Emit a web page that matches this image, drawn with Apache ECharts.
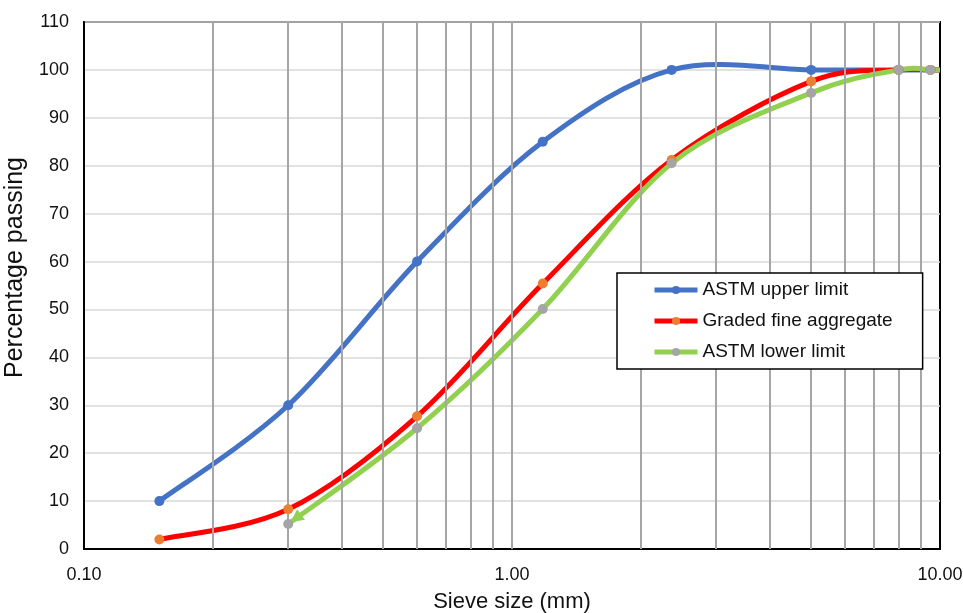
<!DOCTYPE html>
<html>
<head>
<meta charset="utf-8">
<script src="https://cdn.jsdelivr.net/npm/echarts@6/dist/echarts.min.js"></script>
<style>
html,body{margin:0;padding:0;background:#fff;}
#chart{width:963px;height:613px;}
</style>
</head>
<body>
<div id="chart"></div>
<script>
// Sieve sizes (mm) and percentage passing
const sieveUpper = [0.15, 0.3, 0.6, 1.18, 2.36, 5, 8, 9.5, 10];
const upperLimit = [10, 30, 60, 85, 100, 100, 100, 100, 100];

const sieveGraded = [0.15, 0.3, 0.6, 1.18, 2.36, 5, 8, 9.5, 10];
const gradedFine = [2, 8.3, 27.7, 55.4, 81.2, 97.6, 100, 100, 100];

const sieveLower = [0.3, 0.6, 1.18, 2.36, 5, 8, 9.5, 10];
const lowerLimit = [5.2, 25.2, 50.1, 80.5, 95.2, 100, 100, 100];

const minorGrid = [0.2, 0.3, 0.4, 0.5, 0.6, 0.7, 0.8, 0.9, 1, 2, 3, 4, 5, 6, 7, 8, 9];
const yTicks = [0, 10, 20, 30, 40, 50, 60, 70, 80, 90, 100, 110];

const seriesNames = ['ASTM upper limit', 'Graded fine aggregate', 'ASTM lower limit'];
const lineColors = ['#4472C4', '#FF0000', '#92D050'];
const markerColors = ['#4472C4', '#ED7D31', '#A5A5A5'];

function pairs(xs, ys) {
  return xs.map((x, i) => {
    const d = { value: [x, ys[i]] };
    if (x >= 10) d.symbol = 'none';
    return d;
  });
}

// Excel-like smoothed curve (Catmull-Rom style, tangent /6) in pixel space
function curvePts(api, xs, ys) {
  return xs.map((x, i) => api.coord([x, ys[i]]));
}
function curvePath(p) {
  const n = p.length;
  let d = 'M' + p[0][0] + ' ' + p[0][1];
  for (let i = 0; i < n - 1; i++) {
    const p0 = p[Math.max(i - 1, 0)], p1 = p[i], p2 = p[i + 1], p3 = p[Math.min(i + 2, n - 1)];
    const c1 = [p1[0] + (p2[0] - p0[0]) / 6, p1[1] + (p2[1] - p0[1]) / 6];
    const c2 = [p2[0] - (p3[0] - p1[0]) / 6, p2[1] - (p3[1] - p1[1]) / 6];
    d += ' C' + c1[0] + ' ' + c1[1] + ' ' + c2[0] + ' ' + c2[1] + ' ' + p2[0] + ' ' + p2[1];
  }
  return d;
}

function curveSeries(idx, xs, ys, withArrow) {
  return {
    type: 'custom',
    name: '_curve' + idx,
    coordinateSystem: 'cartesian2d',
    clip: true,
    silent: true,
    z: 2 + idx * 0.1,
    data: [[xs[0], ys[0]]],
    encode: { x: 0, y: 1 },
    renderItem: function (params, api) {
      const p = curvePts(api, xs, ys);
      const children = [{
        type: 'path',
        shape: { pathData: curvePath(p) },
        style: { stroke: lineColors[idx], lineWidth: 5, fill: 'none', lineCap: 'round', lineJoin: 'round' }
      }];
      if (withArrow) {
        const a = p[0], b = p[1];
        const dx = b[0] - a[0], dy = b[1] - a[1];
        const L = Math.sqrt(dx * dx + dy * dy);
        const ux = dx / L, uy = dy / L, nx = -uy, ny = ux;
        const tip = [a[0] + ux * 3, a[1] + uy * 3];
        const base = [tip[0] + ux * 13, tip[1] + uy * 13];
        children.push({
          type: 'polygon',
          shape: { points: [tip, [base[0] + nx * 6.5, base[1] + ny * 6.5], [base[0] - nx * 6.5, base[1] - ny * 6.5]] },
          style: { fill: lineColors[idx] }
        });
      }
      return { type: 'group', children: children };
    }
  };
}

function markerSeries(idx, xs, ys) {
  return {
    name: seriesNames[idx], type: 'line',
    data: pairs(xs, ys),
    symbol: 'circle', symbolSize: 10, showSymbol: true,
    lineStyle: { color: lineColors[idx], width: 5, opacity: 0 },
    itemStyle: { color: markerColors[idx] },
    z: 5 + idx
  };
}

const FONT = 'Liberation Sans, Arial, sans-serif';
const chart = echarts.init(document.getElementById('chart'), null, { renderer: 'canvas' });

chart.setOption({
  animation: false,
  backgroundColor: '#fff',
  textStyle: { fontFamily: FONT },
  grid: {
    left: 84, right: 23, top: 22, bottom: 64,
    containLabel: false, outerBoundsMode: 'none',
    show: true, borderColor: '#000', borderWidth: 2, backgroundColor: 'transparent'
  },
  legend: {
    z: 20,
    data: seriesNames.map((n, i) => ({
      name: n,
      lineStyle: { color: lineColors[i], width: 5, opacity: 1 },
      itemStyle: { color: markerColors[i] }
    })),
    orient: 'vertical',
    left: 617, top: 273,
    backgroundColor: '#fff',
    borderColor: '#000', borderWidth: 1.5,
    padding: [7, 30, 7, 35],
    itemWidth: 43, itemHeight: 10, itemGap: 11,
    textStyle: { fontFamily: FONT, fontSize: 19, color: '#111', lineHeight: 20 }
  },
  xAxis: {
    type: 'log', logBase: 10, min: 0.1, max: 10,
    name: 'Sieve size (mm)', nameLocation: 'middle', nameGap: 42,
    nameTextStyle: { fontFamily: FONT, fontSize: 22, color: '#111' },
    axisLine: { lineStyle: { color: '#000', width: 2 } },
    axisTick: { show: false },
    splitLine: { show: false },
    axisLabel: { fontFamily: FONT, fontSize: 18, color: '#111', margin: 17,
      formatter: v => Number(v).toFixed(2) }
  },
  yAxis: {
    type: 'value', min: 0, max: 110, interval: 10,
    name: 'Percentage passing', nameLocation: 'middle', nameGap: 51,
    nameTextStyle: { fontFamily: FONT, fontSize: 25, color: '#111', padding: [0, 0, 0, 36] },
    axisLine: { show: true, lineStyle: { color: '#000', width: 2 } },
    axisTick: { show: false },
    splitLine: { show: true, lineStyle: { color: '#d9d9d9', width: 1.5 } },
    axisLabel: { fontFamily: FONT, fontSize: 18, color: '#111', margin: 15,
      formatter: v => (yTicks.indexOf(v) >= 0 ? String(v) : '') }
  },
  series: [
    {
      name: '_grid', type: 'line', data: [], z: 1, silent: true,
      markLine: {
        silent: true, symbol: 'none', animation: false,
        label: { show: false },
        lineStyle: { color: '#a6a6a6', width: 2, type: 'solid' },
        data: minorGrid.map(v => ({ xAxis: v }))
      }
    },
    curveSeries(0, sieveUpper, upperLimit, false),
    curveSeries(1, sieveGraded, gradedFine, false),
    curveSeries(2, sieveLower, lowerLimit, true),
    markerSeries(0, sieveUpper, upperLimit),
    markerSeries(1, sieveGraded, gradedFine),
    markerSeries(2, sieveLower, lowerLimit)
  ]
});
</script>
</body>
</html>
